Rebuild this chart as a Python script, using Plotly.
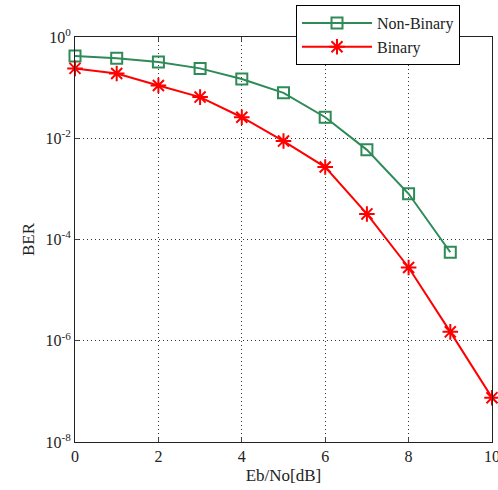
import plotly.graph_objects as go

ebno_nb = [0, 1, 2, 3, 4, 5, 6, 7, 8, 9]
ber_nb = [0.42, 0.38, 0.32, 0.24, 0.148, 0.079, 0.026, 0.0059, 8.0e-4, 5.6e-5]
ebno_b = [0, 1, 2, 3, 4, 5, 6, 7, 8, 9, 10]
ber_b = [0.24, 0.19, 0.11, 0.065, 0.026, 0.0088, 0.0027, 3.2e-4, 2.8e-5, 1.5e-6, 7.5e-8]

x_ticks = [0, 2, 4, 6, 8, 10]
y_ticks = [1, 1e-2, 1e-4, 1e-6, 1e-8]
y_text = ["10<sup>0</sup>", "10<sup>-2</sup>", "10<sup>-4</sup>", "10<sup>-6</sup>", "10<sup>-8</sup>"]

green = "#2e8b57"
red = "#ff0000"
font = "Liberation Serif, Times New Roman, serif"

fig = go.Figure()
fig.add_trace(go.Scatter(x=ebno_nb, y=ber_nb, name="Non-Binary", mode="lines+markers",
                         cliponaxis=False,
                         line=dict(color=green, width=2),
                         marker=dict(symbol="square-open", size=11, color=green, line=dict(width=2))))
fig.add_trace(go.Scatter(x=ebno_b, y=ber_b, name="Binary", mode="lines+markers",
                         cliponaxis=False,
                         line=dict(color=red, width=2),
                         marker=dict(symbol="asterisk-open", size=13, color=red, line=dict(width=2, color=red))))

fig.update_layout(
    width=498, height=490,
    margin=dict(l=75, r=6, t=37, b=48, autoexpand=False),
    plot_bgcolor="white", paper_bgcolor="white",
    font=dict(family=font, size=14, color="#222"),
    legend=dict(xref="container", yref="container", x=296/498, y=1 - 5/490,
                xanchor="left", yanchor="top",
                bgcolor="white", bordercolor="black", borderwidth=1,
                font=dict(family=font, size=16, color="#222"),
                itemwidth=70, tracegroupgap=0),
)
fig.update_xaxes(range=[0, 10], tickvals=x_ticks, ticks="inside", ticklen=4,
                 showline=True, linecolor="#222", linewidth=1, mirror="ticks",
                 showgrid=True, gridcolor="#333", griddash="1px,3px", gridwidth=1,
                 zeroline=False, automargin=False, ticklabeloverflow="allow",
                 title=dict(text="Eb/No[dB]", standoff=4),
                 tickfont=dict(size=16))
fig.update_yaxes(type="log", range=[-8, 0], tickvals=y_ticks, ticktext=y_text,
                 ticks="inside", ticklen=4,
                 showline=True, linecolor="#222", linewidth=1, mirror="ticks",
                 showgrid=True, gridcolor="#333", griddash="1px,3px", gridwidth=1,
                 zeroline=False, automargin=False, ticklabeloverflow="allow",
                 title=dict(text="BER", standoff=6),
                 tickfont=dict(size=16))

fig.write_html("out.html", config={"displayModeBar": False},
               post_script="document.body.style.margin='0';document.body.style.overflow='hidden';")
